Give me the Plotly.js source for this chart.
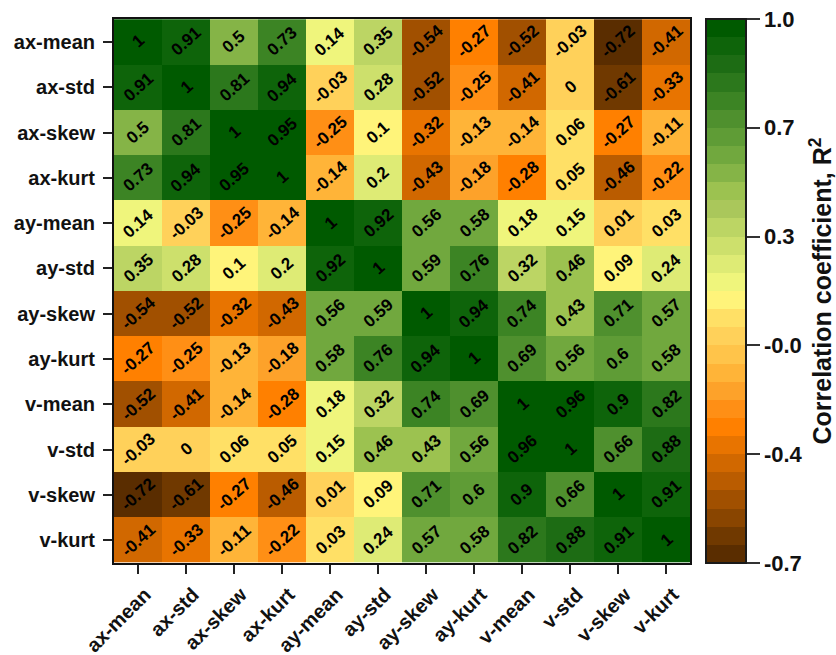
<!DOCTYPE html>
<html>
<head>
<meta charset="utf-8">
<script src="https://cdn.plot.ly/plotly-3.0.1.min.js"></script>
<style>
  html, body { margin: 0; padding: 0; background: #ffffff; }
  #chart { width: 836px; height: 655px; }
</style>
</head>
<body>
<div id="chart"></div>
<script>
// Feature names (same order on both axes)
const features = ["ax-mean", "ax-std", "ax-skew", "ax-kurt",
                  "ay-mean", "ay-std", "ay-skew", "ay-kurt",
                  "v-mean", "v-std", "v-skew", "v-kurt"];

// Correlation matrix, one row per feature
const rowAxMean = [1, 0.91, 0.5, 0.73, 0.14, 0.35, -0.54, -0.27, -0.52, -0.03, -0.72, -0.41];
const rowAxStd  = [0.91, 1, 0.81, 0.94, -0.03, 0.28, -0.52, -0.25, -0.41, 0, -0.61, -0.33];
const rowAxSkew = [0.5, 0.81, 1, 0.95, -0.25, 0.1, -0.32, -0.13, -0.14, 0.06, -0.27, -0.11];
const rowAxKurt = [0.73, 0.94, 0.95, 1, -0.14, 0.2, -0.43, -0.18, -0.28, 0.05, -0.46, -0.22];
const rowAyMean = [0.14, -0.03, -0.25, -0.14, 1, 0.92, 0.56, 0.58, 0.18, 0.15, 0.01, 0.03];
const rowAyStd  = [0.35, 0.28, 0.1, 0.2, 0.92, 1, 0.59, 0.76, 0.32, 0.46, 0.09, 0.24];
const rowAySkew = [-0.54, -0.52, -0.32, -0.43, 0.56, 0.59, 1, 0.94, 0.74, 0.43, 0.71, 0.57];
const rowAyKurt = [-0.27, -0.25, -0.13, -0.18, 0.58, 0.76, 0.94, 1, 0.69, 0.56, 0.6, 0.58];
const rowVMean  = [-0.52, -0.41, -0.14, -0.28, 0.18, 0.32, 0.74, 0.69, 1, 0.96, 0.9, 0.82];
const rowVStd   = [-0.03, 0, 0.06, 0.05, 0.15, 0.46, 0.43, 0.56, 0.96, 1, 0.66, 0.88];
const rowVSkew  = [-0.72, -0.61, -0.27, -0.46, 0.01, 0.09, 0.71, 0.6, 0.9, 0.66, 1, 0.91];
const rowVKurt  = [-0.41, -0.33, -0.11, -0.22, 0.03, 0.24, 0.57, 0.58, 0.82, 0.88, 0.91, 1];

const matrix = [rowAxMean, rowAxStd, rowAxSkew, rowAxKurt,
                rowAyMean, rowAyStd, rowAySkew, rowAyKurt,
                rowVMean, rowVStd, rowVSkew, rowVKurt];

// 30-step brown -> orange -> yellow -> green palette (low to high)
const palette = [
  "#5a2d00", "#703900", "#894500", "#a15000", "#ba5c00", "#d16800",
  "#e87400", "#ff8000", "#ff8f15", "#fda22a", "#ffb438", "#ffc44a",
  "#ffd15a", "#ffe066", "#fff47a", "#eff57c", "#deeb75", "#cde06c",
  "#bcd564", "#aac75b", "#9cc250", "#85b447", "#71a83e", "#5f9c36",
  "#4f902e", "#3c8424", "#2c781c", "#1d6c14", "#0e640a", "#005a00"
];

// Stepped colorscale: each palette entry fills one equal-width band
const colorscale = [];
palette.forEach((c, i) => {
  colorscale.push([i / palette.length, c]);
  colorscale.push([(i + 1) / palette.length, c]);
});

const flat = matrix.flat();
const zMin = Math.min(...flat);
const zMax = Math.max(...flat);

// Six evenly spaced colorbar ticks between the data extremes
const cbTickVals = [];
for (let k = 0; k <= 5; k++) cbTickVals.push(zMin + (zMax - zMin) * k / 5);
const cbTickText = cbTickVals.map(v => v.toFixed(1));

const fontFamily = "'Liberation Sans', Arial, sans-serif";

const heat = {
  type: "heatmap",
  x: features,
  y: features,
  z: matrix,
  zmin: zMin - 0.0001,
  zmax: zMax,
  colorscale: colorscale,
  xgap: 0, ygap: 0,
  hoverinfo: "x+y+z",
  colorbar: {
    thickness: 40,
    thicknessmode: "pixels",
    len: 1,
    lenmode: "fraction",
    x: 1.0278,
    xanchor: "left",
    xpad: 0,
    y: 0.5,
    yanchor: "middle",
    ypad: 0,
    outlinewidth: 2,
    outlinecolor: "#1a1a1a",
    tickvals: cbTickVals,
    ticktext: cbTickText,
    tickprefix: " ",
    ticks: "outside",
    ticklen: 13,
    tickwidth: 2,
    tickcolor: "#333333",
    tickfont: { family: fontFamily, size: 22, color: "#111111", weight: "bold" },
    title: {
      text: "Correlation coefficient, R<sup>2</sup>",
      side: "right",
      font: { family: fontFamily, size: 25, color: "#111111", weight: "bold" }
    }
  }
};

// Value labels written diagonally inside each cell
const annotations = [];
matrix.forEach((row, r) => {
  row.forEach((val, c) => {
    annotations.push({
      x: features[c],
      y: features[r],
      xref: "x",
      yref: "y",
      text: String(val),
      textangle: -42,
      showarrow: false,
      font: { family: fontFamily, size: 17, color: "#000000", weight: "bold" }
    });
  });
});

const axisCommon = {
  type: "category",
  showline: true,
  mirror: true,
  linecolor: "#111111",
  linewidth: 2,
  ticks: "outside",
  ticklen: 9,
  tickwidth: 2,
  tickcolor: "#222222",
  showgrid: false,
  zeroline: false,
  tickfont: { family: fontFamily, size: 20, color: "#111111", weight: "bold" }
};

const layout = {
  width: 836,
  height: 655,
  margin: { l: 114, r: 146, t: 19, b: 92, pad: 0, autoexpand: false },
  paper_bgcolor: "#ffffff",
  plot_bgcolor: "#ffffff",
  xaxis: Object.assign({}, axisCommon, {
    tickangle: -45, ticklabelstandoff: 1, ticklabelshift: 7
  }),
  yaxis: Object.assign({}, axisCommon, {
    autorange: "reversed", ticklabelstandoff: 4
  }),
  annotations: annotations,
  showlegend: false
};

Plotly.newPlot("chart", [heat], layout, { displayModeBar: false, responsive: false });
</script>
</body>
</html>
